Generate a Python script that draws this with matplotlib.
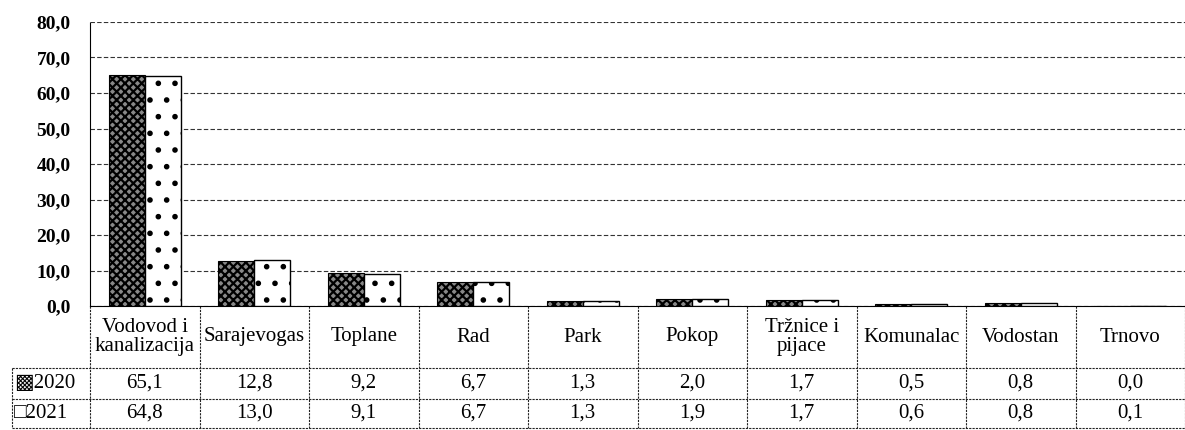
import matplotlib
matplotlib.use("Agg")
import matplotlib.pyplot as plt
import matplotlib.transforms as mtransforms
import numpy as np

categories = ["Vodovod i\nkanalizacija", "Sarajevogas", "Toplane", "Rad", "Park",
              "Pokop", "Tržnice i\npijace", "Komunalac", "Vodostan", "Trnovo"]
series_names = ["2020", "2021"]
values_2020 = [65.1, 12.8, 9.2, 6.7, 1.3, 2.0, 1.7, 0.5, 0.8, 0.0]
values_2021 = [64.8, 13.0, 9.1, 6.7, 1.3, 1.9, 1.7, 0.6, 0.8, 0.1]
y_ticks = [0, 10, 20, 30, 40, 50, 60, 70, 80]


def fmt(v):
    return f"{v:.1f}".replace(".", ",")


plt.rcParams['font.family'] = ['Liberation Serif', 'DejaVu Sans']
plt.rcParams['hatch.linewidth'] = 1.6

fig = plt.figure(figsize=(11.85, 4.30), dpi=100)
ax = fig.add_axes([90 / 1185, 1 - 306 / 430, 1095 / 1185, 284 / 430])

n = len(categories)
x = np.arange(n)
w = 0.33
ax.bar(x - w / 2, values_2020, w, facecolor="#888888", edgecolor="black",
       hatch="xxxx", linewidth=0.8, zorder=3)
ax.bar(x + w / 2, values_2021, w, facecolor="white", edgecolor="black",
       hatch=".", linewidth=1.0, zorder=3)

ax.set_xlim(-0.5, n - 0.5)
ax.set_ylim(0, 80)
ax.set_yticks(y_ticks)
ax.set_yticklabels([fmt(v) for v in y_ticks], fontsize=14, fontweight="bold")
ax.set_xticks([])
ax.yaxis.grid(True, linestyle=(0, (4, 2)), color="#333333", linewidth=0.8)
ax.set_axisbelow(True)
for s in ["top", "right"]:
    ax.spines[s].set_visible(False)
ax.spines["left"].set_linestyle((0, (3, 1)))
ax.tick_params(axis="y", length=0, pad=14)

# data table under the plot (drawn by hand)
trans = mtransforms.blended_transform_factory(ax.transData, ax.transAxes)
px = 1 / 284  # one pixel in axes y units
y_head = -62 * px
y_r1 = -93 * px
y_r2 = -122 * px
x_lab = -0.5 - 78 / 109.5
ls = (0, (2, 1))
line_kw = dict(color="#222222", linewidth=0.8, linestyle=ls, transform=trans, clip_on=False)

for yy in [y_head, y_r1, y_r2]:
    ax.plot([x_lab, n - 0.5], [yy, yy], **line_kw)
for i in range(n + 1):
    ax.plot([i - 0.5, i - 0.5], [0, y_r2], **line_kw)
ax.plot([x_lab, x_lab], [y_head, y_r2], **line_kw)

txt_kw = dict(ha="center", va="center", fontsize=15, transform=trans)
for i, cat in enumerate(categories):
    ax.text(i, y_head / 2, cat, linespacing=1.0, **txt_kw)
    ax.text(i, (y_head + y_r1) / 2, fmt(values_2020[i]), **txt_kw)
    ax.text(i, (y_r1 + y_r2) / 2, fmt(values_2021[i]), **txt_kw)

row_labels = ["▩" + series_names[0], "□" + series_names[1]]
ax.text(x_lab + 0.02, (y_head + y_r1) / 2, row_labels[0], ha="left", va="center",
        fontsize=15, transform=trans)
ax.text(x_lab + 0.02, (y_r1 + y_r2) / 2, row_labels[1], ha="left", va="center",
        fontsize=15, transform=trans)

fig.savefig("out.png", dpi=100)
